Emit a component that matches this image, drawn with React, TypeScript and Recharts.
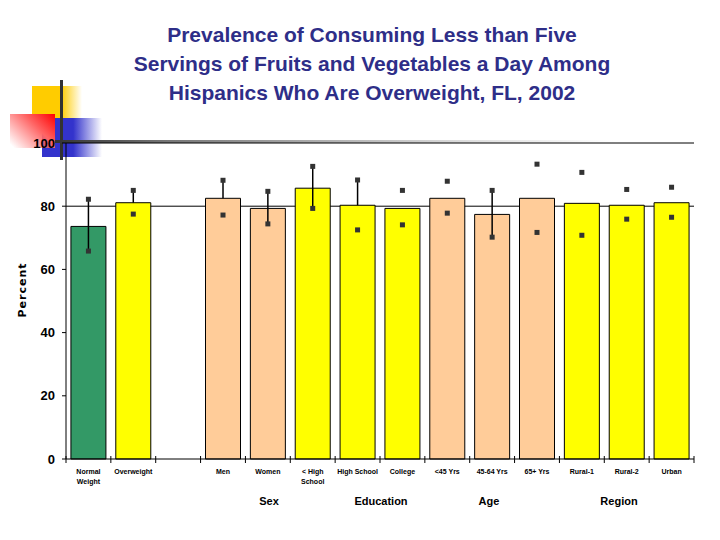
import React from 'react';
import { ComposedChart, Bar, Cell, XAxis, YAxis, Scatter, ErrorBar, CartesianGrid } from 'recharts';

const categories = ['Normal Weight', 'Overweight', '', 'Men', 'Women', '< High School', 'High School', 'College', '<45 Yrs', '45-64 Yrs', '65+ Yrs', 'Rural-1', 'Rural-2', 'Urban'];
const tickLabels = ['Normal\nWeight', 'Overweight', '', 'Men', 'Women', '< High\nSchool', 'High School', 'College', '<45 Yrs', '45-64 Yrs', '65+ Yrs', 'Rural-1', 'Rural-2', 'Urban'];
const values = [73.6, 81.1, null, 82.5, 79.3, 85.7, 80.3, 79.3, 82.5, 77.4, 82.5, 80.9, 80.3, 81.1];
const upper = [82.2, 85.0, null, 88.2, 84.7, 92.6, 88.3, 85.0, 87.9, 85.0, 93.3, 90.7, 85.3, 86.0];
const lower = [65.8, 77.5, null, 77.2, 74.4, 79.3, 72.5, 74.1, 77.8, 70.2, 71.7, 70.8, 75.9, 76.5];
const lineLow = [65.8, 81.1, null, 82.5, 74.4, 79.3, 80.3, null, null, 70.2, null, null, null, null];
const lineHigh = [82.2, 85.0, null, 88.2, 84.7, 92.6, 88.3, null, null, 85.0, null, null, null, null];
const colors = ['#339966', '#FFFF00', '#FFFFFF', '#FFCC99', '#FFCC99', '#FFFF00', '#FFFF00', '#FFFF00', '#FFCC99', '#FFCC99', '#FFCC99', '#FFFF00', '#FFFF00', '#FFFF00'];
const yTicks = [0, 20, 40, 60, 80, 100];
const groupLabels = [
  { text: 'Sex', x: 269 },
  { text: 'Education', x: 381 },
  { text: 'Age', x: 489 },
  { text: 'Region', x: 619 },
];
const titleLines = [
  'Prevalence of Consuming Less than Five',
  'Servings of Fruits and Vegetables a Day Among',
  'Hispanics Who Are Overweight, FL, 2002',
];

const data = categories.map((name, i) => {
  const v = values[i];
  const lo = lineLow[i];
  const hi = lineHigh[i];
  const err = v != null && lo != null && hi != null ? [v - lo, hi - v] : [0, 0];
  return { name, value: v, upper: upper[i], lower: lower[i], err };
});

const Square = (p: any) => {
  if (p.cx == null || p.cy == null || isNaN(p.cx) || isNaN(p.cy)) return <g />;
  return <rect x={p.cx - 2.5} y={p.cy - 2.5} width={5} height={5} fill="#333333" />;
};

const XTick = (props: any) => {
  const { x, y, payload, index } = props;
  const off = payload && payload.offset != null ? payload.offset : 0;
  const lines = (tickLabels[index] || '').split('\n');
  return (
    <g>
      <line x1={x - off} x2={x - off} y1={y - 3} y2={y + 4} stroke="#000" strokeWidth={1} />
      {index === categories.length - 1 ? (
        <line x1={x + off} x2={x + off} y1={y - 3} y2={y + 4} stroke="#000" strokeWidth={1} />
      ) : null}
      {lines.map((l: string, k: number) => (
        <text
          key={k}
          x={x}
          y={y + 15 + k * 10}
          textAnchor="middle"
          fontFamily="'Liberation Sans', Arial, sans-serif"
          fontWeight="bold"
          fontSize={7}
          fill="#000"
          stroke="none"
        >
          {l}
        </text>
      ))}
    </g>
  );
};

export default function App() {
  return (
    <div style={{ position: 'absolute', left: 0, top: 0, width: 720, height: 540, background: '#fff', overflow: 'hidden' }}>
      {/* decorative slide template */}
      <div style={{ position: 'absolute', left: 32, top: 86, width: 50, height: 32, background: 'linear-gradient(to right, #FFCC00 0%, #FFCC00 58%, rgba(255,204,0,0) 100%)' }} />
      <div style={{ position: 'absolute', left: 42, top: 118, width: 60, height: 39, background: 'linear-gradient(to right, #3333CC 0%, #3333CC 52%, rgba(51,51,204,0) 100%)' }} />
      <div style={{ position: 'absolute', left: 10, top: 114, width: 45, height: 34, background: 'linear-gradient(225deg, #FF0000 0%, #FF6666 40%, rgba(255,255,255,0) 95%)' }} />
      <div style={{ position: 'absolute', left: 60, top: 80, width: 3, height: 80, background: '#333' }} />
      <div style={{ position: 'absolute', left: 55, top: 140, width: 560, height: 3, background: 'linear-gradient(to right, #333 0%, #777 20%, #aaa 45%, #e0e0e0 75%, rgba(255,255,255,0) 100%)' }} />

      <div style={{ position: 'absolute', left: 0, top: 20, width: 744, textAlign: 'center', fontFamily: "'Liberation Sans', Arial, sans-serif", fontWeight: 'bold', fontSize: 21, lineHeight: '29px', color: '#2E2E88' }}>
        {titleLines.map((t, i) => (
          <div key={i}>{t}</div>
        ))}
      </div>

      <div style={{ position: 'absolute', left: 0, top: 0 }}>
        <ComposedChart width={720} height={540} data={data} margin={{ top: 143, right: 26, bottom: 51, left: 26 }} barCategoryGap="11%">
          <CartesianGrid vertical={false} horizontalValues={[80, 100]} stroke="#000" strokeWidth={1} />
          <XAxis dataKey="name" type="category" height={30} tick={<XTick />} tickLine={false} tickSize={0} tickMargin={0} axisLine={{ stroke: '#000', strokeWidth: 1 }} interval={0} />
          <YAxis domain={[0, 100]} ticks={yTicks} interval={0} width={40} tickSize={4} tickMargin={7} axisLine={{ stroke: '#000', strokeWidth: 1 }} tickLine={{ stroke: '#000' }} tick={{ fontFamily: "'Liberation Sans', Arial, sans-serif", fontWeight: 'bold', fontSize: 13, fill: '#000' }} />
          <YAxis yAxisId="r" orientation="right" domain={[0, 100]} width={0} tick={false} tickLine={false} axisLine={{ stroke: '#000', strokeWidth: 1 }} />
          <Bar dataKey="value" stroke="#000" strokeWidth={1} isAnimationActive={false}>
            {data.map((d, i) => (
              <Cell key={i} fill={colors[i]} />
            ))}
            <ErrorBar dataKey="err" direction="y" width={0} stroke="#000" strokeWidth={1.5} />
          </Bar>
          <Scatter dataKey="upper" shape={Square} isAnimationActive={false} />
          <Scatter dataKey="lower" shape={Square} isAnimationActive={false} />
        </ComposedChart>
      </div>

      <div style={{ position: 'absolute', left: 22, top: 290, transform: 'translate(-50%, -50%) rotate(-90deg)', fontFamily: "'DejaVu Sans', sans-serif", fontWeight: 'bold', fontSize: 11, letterSpacing: 1, whiteSpace: 'nowrap', color: '#000' }}>
        Percent
      </div>
      {groupLabels.map((g, i) => (
        <div key={i} style={{ position: 'absolute', left: g.x, top: 495, transform: 'translateX(-50%)', fontFamily: "'Liberation Sans', Arial, sans-serif", fontWeight: 'bold', fontSize: 11, color: '#000', whiteSpace: 'nowrap' }}>
          {g.text}
        </div>
      ))}
    </div>
  );
}
